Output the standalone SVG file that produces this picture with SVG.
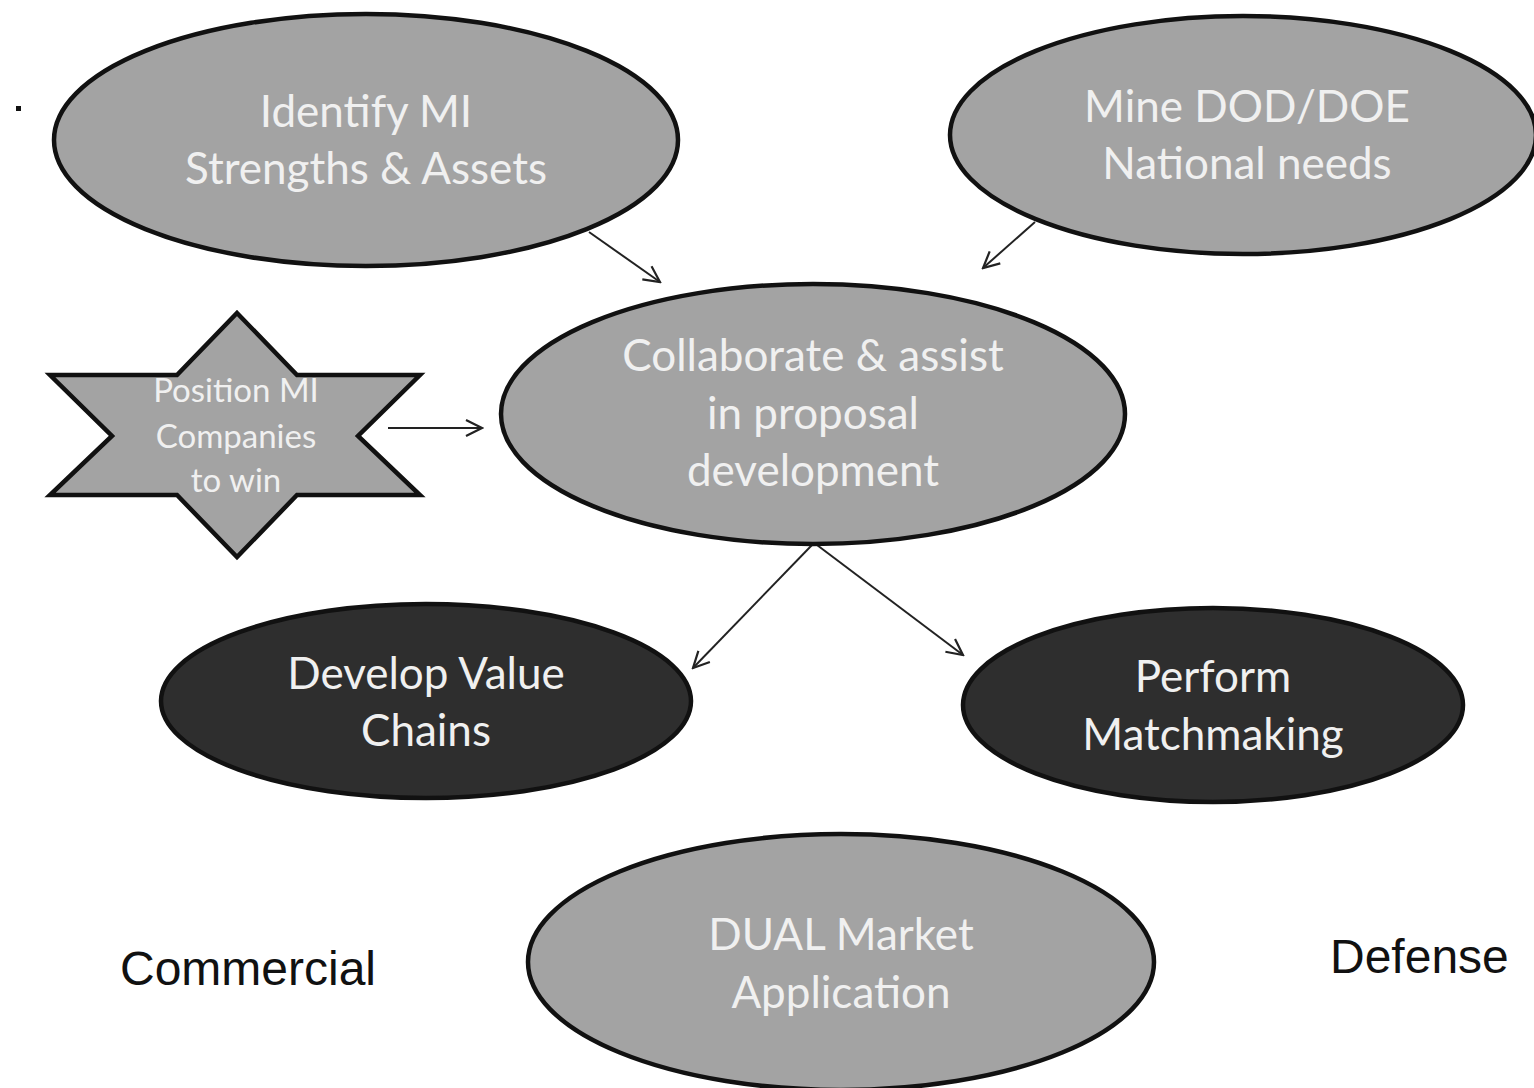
<svg xmlns="http://www.w3.org/2000/svg" width="1534" height="1088" viewBox="0 0 1534 1088">
<style>
.g{fill:#a3a3a3;stroke:#111;stroke-width:4.5}
.d{fill:#2e2e2e;stroke:#111;stroke-width:4.5}
.t{font-family:Lato,"Open Sans",sans-serif;fill:#f0f0f0;text-anchor:middle;font-size:44px}
.s{font-size:33px}
.c{stroke:#222;stroke-width:2;fill:none;marker-end:url(#ah)}
.lbl{font-family:"Liberation Sans",Arial,sans-serif;font-size:48px;fill:#111}
</style>
<defs>
<marker id="ah" viewBox="0 0 20 20" refX="18" refY="10" markerWidth="20" markerHeight="20" markerUnits="userSpaceOnUse" orient="auto">
<path d="M2 2 L18 10 L2 18" fill="none" stroke="#222" stroke-width="2.2"/>
</marker>
</defs>
<rect width="1534" height="1088" fill="#fff"/>
<rect x="16" y="106" width="5" height="5" fill="#111"/>
<g id="connectors">
<line class="c" x1="589" y1="232" x2="660" y2="282"/>
<line class="c" x1="1035" y1="222" x2="983" y2="268"/>
<line class="c" x1="388" y1="428" x2="482" y2="428"/>
<line class="c" x1="812" y1="545" x2="693" y2="668"/>
<line class="c" x1="817" y1="545" x2="963" y2="655"/>
</g>
<g id="identify">
<ellipse class="g" cx="366" cy="140" rx="312" ry="126"/>
<text class="t" x="366" y="127">Identify MI</text>
<text class="t" x="366" y="184">Strengths &amp; Assets</text>
</g>
<g id="mine">
<ellipse class="g" cx="1243" cy="135" rx="293" ry="119"/>
<text class="t" x="1247" y="122">Mine DOD/DOE</text>
<text class="t" x="1247" y="179">National needs</text>
</g>
<g id="collaborate">
<ellipse class="g" cx="813" cy="414" rx="312" ry="130"/>
<text class="t" x="813" y="371">Collaborate &amp; assist</text>
<text class="t" x="813" y="429">in proposal</text>
<text class="t" x="813" y="486">development</text>
</g>
<g id="position">
<polygon class="g" points="237,313 297,375 420,375 358,436 420,495 297,495 237,557 177,495 50,495 112,436 50,375 177,375"/>
<text class="t s" x="236" y="402">Position MI</text>
<text class="t s" x="236" y="448">Companies</text>
<text class="t s" x="236" y="492">to win</text>
</g>
<g id="value">
<ellipse class="d" cx="426" cy="701" rx="265" ry="97"/>
<text class="t" x="426" y="689">Develop Value</text>
<text class="t" x="426" y="746">Chains</text>
</g>
<g id="match">
<ellipse class="d" cx="1213" cy="705" rx="250" ry="97"/>
<text class="t" x="1213" y="692">Perform</text>
<text class="t" x="1213" y="750">Matchmaking</text>
</g>
<g id="dual">
<ellipse class="g" cx="841" cy="962" rx="313" ry="128"/>
<text class="t" x="841" y="950">DUAL Market</text>
<text class="t" x="841" y="1008">Application</text>
</g>
<text class="lbl" x="120" y="985">Commercial</text>
<text class="lbl" x="1330" y="973">Defense</text>
</svg>
